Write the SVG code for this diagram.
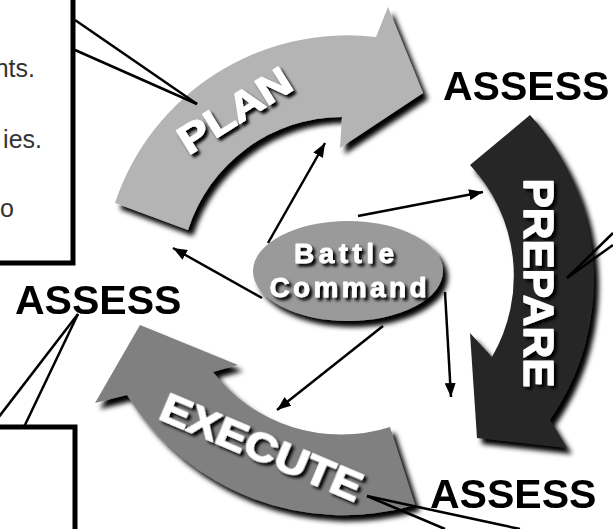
<svg xmlns="http://www.w3.org/2000/svg" width="613" height="529" viewBox="0 0 613 529">
<defs>
<style>
.box{fill:#fff;stroke:#000;stroke-width:5}
.note{font-family:"Liberation Sans",Arial,sans-serif;font-size:25px;fill:#333}
.assess{font-family:"Liberation Sans",Arial,sans-serif;font-size:41px;font-weight:bold;fill:#000}
.big{font-family:"Liberation Sans",Arial,sans-serif;font-weight:bold;fill:#fff;stroke:#fff;stroke-width:1.3;stroke-linejoin:round}
.conn{stroke:#000;stroke-width:2.5;fill:none}
.call{stroke:#000;stroke-width:2.5;fill:none}
</style>
<filter id="sh" x="-20%" y="-20%" width="150%" height="150%">
<feGaussianBlur in="SourceAlpha" stdDeviation="2.5"/>
<feOffset dx="5" dy="6" result="o"/>
<feMerge><feMergeNode in="o"/><feMergeNode in="SourceGraphic"/></feMerge>
</filter>
<filter id="tsh" x="-20%" y="-30%" width="150%" height="170%">
<feGaussianBlur in="SourceAlpha" stdDeviation="1.5"/>
<feOffset dx="3" dy="3" result="o"/>
<feMerge><feMergeNode in="o"/><feMergeNode in="SourceGraphic"/></feMerge>
</filter>
<marker id="ah" markerUnits="userSpaceOnUse" markerWidth="14" markerHeight="11" refX="14" refY="5.5" orient="auto">
<path d="M0,0 L14,5.5 L0,11 Z" fill="#000"/>
</marker>
</defs>

<g id="box-top">
<rect class="box" x="-10" y="-10" width="83" height="273"/>
<text class="note" x="35" y="77" text-anchor="end">nts.</text>
<text class="note" x="42" y="148" text-anchor="end">ies.</text>
<text class="note" x="14" y="217" text-anchor="end">o</text>
</g>
<g id="box-bottom">
<rect class="box" x="-10" y="427" width="85" height="120"/>
</g>

<g id="plan" filter="url(#sh)">
<path d="M115,203 A245,245 0 0 1 376,37 L388,7 L423,93 L340,148 L342,117 A162,162 0 0 0 188,230 Z" fill="#b4b4b4"/>
</g>
<g id="prepare" filter="url(#sh)">
<path d="M530,115 A245,245 0 0 1 550,420 L567,448 L477,438 L470,333 L492,357 A162,162 0 0 0 470,165 Z" fill="#282828"/>
</g>
<g id="execute" filter="url(#sh)">
<path d="M415,505 A255,255 0 0 1 127,395 L95,403 L140,325 L238,365 L213,372 A162,162 0 0 0 390,427 Z" fill="#808080"/>
</g>

<g id="labels-big" filter="url(#tsh)">
<text class="big" font-size="40" text-anchor="middle" textLength="126" lengthAdjust="spacingAndGlyphs" transform="translate(242,122) rotate(-32)">PLAN</text>
<text class="big" font-size="42" text-anchor="middle" textLength="209" lengthAdjust="spacingAndGlyphs" transform="translate(524,283) rotate(90)">PREPARE</text>
<text class="big" font-size="40" text-anchor="middle" textLength="215" lengthAdjust="spacingAndGlyphs" transform="translate(256,460) rotate(23)">EXECUTE</text>
</g>

<g id="assess-top"><text class="assess" x="443" y="100">ASSESS</text></g>
<g id="assess-left"><text class="assess" x="15" y="314">ASSESS</text></g>
<g id="assess-bottom"><text class="assess" x="430" y="508">ASSESS</text></g>

<g id="connectors">
<line class="conn" x1="268" y1="243" x2="325" y2="143" marker-end="url(#ah)"/>
<line class="conn" x1="358" y1="216" x2="483" y2="192" marker-end="url(#ah)"/>
<line class="conn" x1="262" y1="298" x2="173" y2="248" marker-end="url(#ah)"/>
<line class="conn" x1="383" y1="326" x2="277" y2="410" marker-end="url(#ah)"/>
<line class="conn" x1="445" y1="292" x2="451" y2="397" marker-end="url(#ah)"/>
<line class="call" x1="75" y1="20" x2="197" y2="104"/>
<line class="call" x1="75" y1="50" x2="197" y2="104"/>
<line class="call" x1="78" y1="314" x2="-2" y2="418"/>
<line class="call" x1="78" y1="314" x2="24" y2="427"/>
<line class="call" x1="613" y1="233" x2="567" y2="278"/>
<line class="call" x1="613" y1="245" x2="567" y2="278"/>
<line class="call" x1="367" y1="496" x2="520" y2="529"/>
<line class="call" x1="367" y1="496" x2="445" y2="529"/>
</g>

<g id="battle-command">
<ellipse cx="348" cy="271" rx="95" ry="50" fill="#9a9a9a" filter="url(#sh)"/>
<g filter="url(#tsh)">
<text class="big" font-size="28" x="344" y="263" text-anchor="middle" textLength="100" lengthAdjust="spacing" style="stroke-width:0.8">Battle</text>
<text class="big" font-size="28" x="348" y="297" text-anchor="middle" textLength="157" lengthAdjust="spacing" style="stroke-width:0.8">Command</text>
</g>
</g>
</svg>
